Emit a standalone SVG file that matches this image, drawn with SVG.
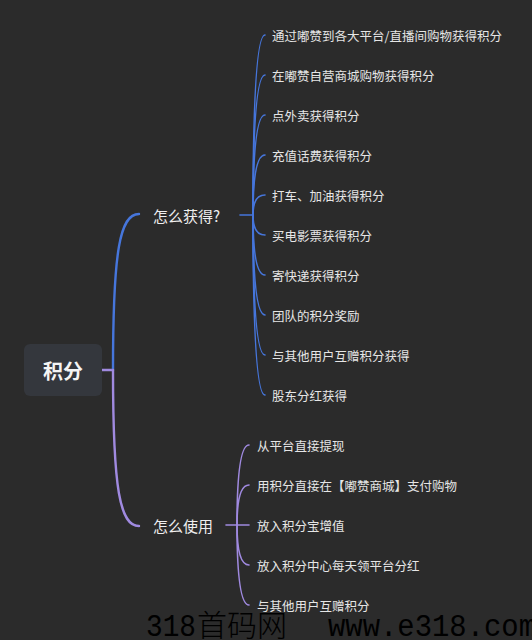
<svg xmlns="http://www.w3.org/2000/svg" width="532" height="640" viewBox="0 0 532 640">
<style>
.bg{fill:#2b2b2b}
.root-box{fill:#34373d}
.root-txt{font-family:"Noto Sans CJK SC","Noto Sans",sans-serif;font-size:20px;font-weight:700;fill:#f4f4f4}
.br{font-family:"Noto Sans CJK SC","Noto Sans",sans-serif;font-size:15px;fill:#eeeeee}
.it{font-family:"Noto Sans CJK SC","Noto Sans",sans-serif;font-size:12.5px;fill:#e6e6e6}
.blue{stroke:#4676dc;fill:none;stroke-linecap:round}
.purple{stroke:#a08ae0;fill:none;stroke-linecap:round}
.thick{stroke-width:2.4}
.thin{stroke-width:1.6}
.wm-l{font-family:"Liberation Mono",monospace;font-size:31px}
.wm-c{font-family:"Noto Sans CJK SC",sans-serif;font-size:30px;font-weight:300}
</style>
<rect class="bg" x="0" y="0" width="532" height="640"/>

<g id="connectors">
  <path class="purple thick" d="M102,370 L113,370"/>
  <path class="blue thick" d="M113,370 C113,250 120,214 139,214"/>
  <path class="purple thick" d="M113,370 C113,490 120,526 139,526"/>
  <path class="blue thin" d="M240,215 L253,215"/>
  <path class="blue thin" d="M253,215 Q253,35 265,35"/>
  <path class="blue thin" d="M253,215 Q253,75 265,75"/>
  <path class="blue thin" d="M253,215 Q253,115 265,115"/>
  <path class="blue thin" d="M253,215 Q253,155 265,155"/>
  <path class="blue thin" d="M253,215 Q253,195 265,195"/>
  <path class="blue thin" d="M253,215 Q253,235 265,235"/>
  <path class="blue thin" d="M253,215 Q253,275 265,275"/>
  <path class="blue thin" d="M253,215 Q253,315 265,315"/>
  <path class="blue thin" d="M253,215 Q253,355 265,355"/>
  <path class="blue thin" d="M253,215 Q253,395 265,395"/>
  <path class="purple thin" d="M226,525 L237,525"/>
  <path class="purple thin" d="M237,525 Q237,445 249,445"/>
  <path class="purple thin" d="M237,525 Q237,485 249,485"/>
  <path class="purple thin" d="M237,525 L249,525"/>
  <path class="purple thin" d="M237,525 Q237,565 249,565"/>
  <path class="purple thin" d="M237,525 Q237,605 249,605"/>
</g>

<g id="root">
  <rect class="root-box" x="24" y="344" width="78" height="52" rx="6"/>
  <text class="root-txt" x="63" y="370" text-anchor="middle" dominant-baseline="central">积分</text>
</g>

<g id="branch-get">
  <text class="br" x="153" y="215" dominant-baseline="central">怎么获得?</text>
</g>
<g id="branch-use">
  <text class="br" x="153" y="525" dominant-baseline="central">怎么使用</text>
</g>

<g id="get-1"><text class="it" x="272" y="35" dominant-baseline="central">通过嘟赞到各大平台/直播间购物获得积分</text></g>
<g id="get-2"><text class="it" x="272" y="75" dominant-baseline="central">在嘟赞自营商城购物获得积分</text></g>
<g id="get-3"><text class="it" x="272" y="115" dominant-baseline="central">点外卖获得积分</text></g>
<g id="get-4"><text class="it" x="272" y="155" dominant-baseline="central">充值话费获得积分</text></g>
<g id="get-5"><text class="it" x="272" y="195" dominant-baseline="central">打车、加油获得积分</text></g>
<g id="get-6"><text class="it" x="272" y="235" dominant-baseline="central">买电影票获得积分</text></g>
<g id="get-7"><text class="it" x="272" y="275" dominant-baseline="central">寄快递获得积分</text></g>
<g id="get-8"><text class="it" x="272" y="315" dominant-baseline="central">团队的积分奖励</text></g>
<g id="get-9"><text class="it" x="272" y="355" dominant-baseline="central">与其他用户互赠积分获得</text></g>
<g id="get-10"><text class="it" x="272" y="395" dominant-baseline="central">股东分红获得</text></g>

<g id="use-1"><text class="it" x="257" y="445" dominant-baseline="central">从平台直接提现</text></g>
<g id="use-2"><text class="it" x="257" y="485" dominant-baseline="central">用积分直接在【嘟赞商城】支付购物</text></g>
<g id="use-3"><text class="it" x="257" y="525" dominant-baseline="central">放入积分宝增值</text></g>
<g id="use-4"><text class="it" x="257" y="565" dominant-baseline="central">放入积分中心每天领平台分红</text></g>
<g id="use-5"><text class="it" x="257" y="605" dominant-baseline="central">与其他用户互赠积分</text></g>

<g id="watermark">
  <text class="wm-l" x="146" y="636" fill="#000000" textLength="50" lengthAdjust="spacingAndGlyphs">318</text>
  <text class="wm-c" x="197" y="636" fill="#000000" textLength="90" lengthAdjust="spacingAndGlyphs">首码网</text>
  <text class="wm-l" x="328" y="636" fill="#000000" textLength="208" lengthAdjust="spacingAndGlyphs">www.e318.com</text>
</g>
</svg>
